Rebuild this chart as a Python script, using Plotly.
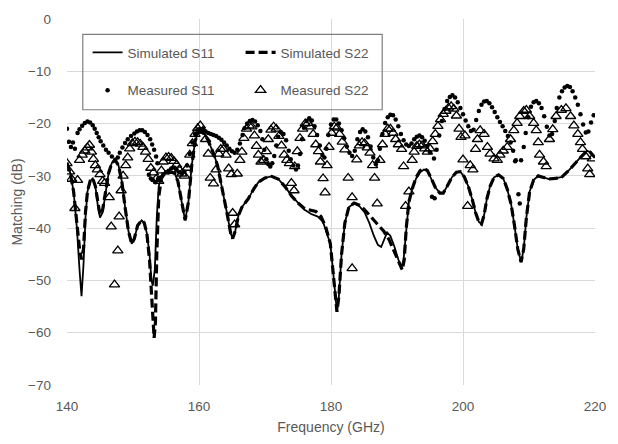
import plotly.graph_objects as go

# ---------------- data ----------------
sim_s11_f = [140.0,140.5,141.0,141.5,141.9,142.2,142.5,142.8,143.1,143.5,143.9,144.3,144.7,145.0,145.4,145.8,146.3,146.8,147.3,147.8,
             148.3,148.8,149.3,149.8,150.2,150.7,151.3,151.7,152.1,152.5,152.8,153.0,153.3,153.6,153.9,154.3,154.8,155.3,155.8,156.3,
             156.8,157.3,157.9,158.4,158.9,159.4,159.8,160.3,160.8,161.3,161.8,162.3,162.8,163.3,163.8,164.3,164.8,165.1,165.5,166.0,
             166.5,167.0,167.5,168.3,169.0,170.0,171.0,172.0,173.0,174.0,175.0,176.0,177.0,178.0,178.8,179.4,179.9,180.3,180.7,180.9,
             181.2,181.6,182.1,182.7,183.5,184.3,185.1,185.8,186.5,187.1,187.6,188.1,188.5,189.0,189.6,190.2,190.7,191.0,191.4,191.8,
             192.3,192.9,193.5,194.1,194.6,195.2,195.8,196.5,197.0,197.6,198.3,199.0,199.6,200.2,200.8,201.4,201.9,202.4,202.8,203.2,
             203.6,204.1,204.7,205.4,206.1,206.7,207.3,207.8,208.3,208.8,209.2,209.6,210.1,210.7,211.4,212.2,213.0,214.0,215.0,216.0,
             217.0,218.0,218.8,219.3,220.0]
sim_s11_db = [-27.5,-29.5,-33,-40,-48,-53,-47,-38,-33,-31,-30.5,-32,-36,-38,-37,-33.5,-29.5,-27.5,-27,-28,
              -31,-36,-40.5,-43,-42,-39.5,-38.5,-39,-41,-45,-50,-51,-48,-38,-32,-30,-29.5,-29.5,-29.3,-29.5,
              -31,-34.5,-38.5,-35,-28,-23.5,-21.8,-21.5,-22,-23,-24.5,-26,-28,-31,-34,-37.5,-41,-42,-40.5,-37.5,
              -36,-35.2,-34.3,-32.5,-31.2,-30.4,-30.1,-30.6,-32,-33.8,-35.2,-36.5,-37.3,-37.8,-38.8,-41,-43,-48,-54,-56,
              -53,-45,-39,-36,-35.2,-35.8,-37,-39,-41.5,-43.2,-43.6,-42.2,-40.8,-41.5,-43.5,-46,-47.4,-46,-40,-35,
              -32.5,-30.5,-29.3,-28.8,-29,-30.5,-32.2,-33.3,-33.3,-32,-30.3,-29.3,-29.2,-30.2,-32,-34.5,-37,-38.8,-39.2,-37.5,
              -34.5,-32,-30.3,-29.8,-30.5,-32.5,-35.5,-39.5,-44,-46.5,-44,-38,-33,-30.8,-30,-30.3,-30.6,-30.5,-30.2,-29,
              -27.5,-26.2,-25.2,-25.5,-26.5]

sim_s22_f = [140.0,140.5,141.0,141.5,141.9,142.2,142.5,142.8,143.1,143.5,143.9,144.3,144.7,145.0,145.4,145.8,146.3,146.8,147.3,147.8,
             148.3,148.8,149.3,149.8,150.2,150.7,151.3,151.7,152.1,152.5,152.8,153.0,153.2,153.4,153.6,153.9,154.3,154.8,155.3,155.8,156.3,
             156.8,157.3,157.9,158.4,158.9,159.4,159.8,160.3,160.8,161.3,161.8,162.3,162.8,163.3,163.8,164.3,164.8,165.1,165.5,166.0,
             166.5,167.0,167.5,168.3,169.0,170.0,171.0,172.0,173.0,174.0,175.0,176.0,177.0,177.7,178.5,179.2,179.9,180.3,180.7,180.9,
             181.2,181.6,182.1,182.7,183.5,184.3,185.1,185.8,186.5,187.2,188.0,188.8,189.6,190.2,190.8,191.1,191.4,191.8,
             192.3,192.9,193.5,194.1,194.6,195.2,195.8,196.5,197.0,197.6,198.3,199.0,199.6,200.2,200.8,201.4,201.9,202.4,202.8,203.2,
             203.6,204.1,204.7,205.4,206.1,206.7,207.3,207.8,208.3,208.8,209.2,209.6,210.1,210.7,211.4,212.2,213.0,214.0,215.0,216.0,
             217.0,218.0,218.8,219.3,220.0]
sim_s22_db = [-27.5,-29.5,-33,-39,-44,-46,-44,-37,-33,-31,-30.5,-32,-35.5,-37.5,-36.5,-33.5,-29.5,-27.5,-27,-28,
              -31,-36,-40.5,-43,-42,-39.5,-38.5,-39,-41,-46,-53,-59,-61,-58,-45,-34,-30.5,-29.5,-29.5,-29.3,-29.5,
              -31,-34.5,-38.5,-35,-28,-23.5,-21.8,-21.5,-22,-23,-24.5,-26,-28,-31,-34,-37.5,-41,-42,-40.5,-37.5,
              -36,-35.2,-34.3,-32.5,-31.2,-30.4,-30.1,-30.6,-32,-33.8,-35.2,-36.3,-36.6,-36.8,-37.8,-39.8,-43,-48,-54,-56,
              -53,-45,-39,-36,-35.2,-35.6,-36.5,-37.5,-38.5,-39.5,-40.6,-42.2,-44.5,-46.5,-48,-46,-40,-35,
              -32.5,-30.3,-29,-28.6,-29,-30.5,-32.2,-33.3,-33.3,-32,-30.3,-29.3,-29.2,-30.2,-32,-34.5,-37,-38.8,-39.2,-37.5,
              -34.5,-32,-30.3,-29.8,-30.5,-32.5,-35.5,-39.5,-44,-46.5,-44,-38,-33,-30.8,-30,-30.3,-30.6,-30.5,-30.2,-29,
              -27.5,-26.2,-25.2,-25.5,-26.5]

meas_s11_f = [140.0,140.3,140.6,140.9,141.2,141.6,141.9,142.3,142.7,143.1,143.5,143.9,144.2,144.5,144.8,145.1,145.5,145.9,146.3,146.8,
              147.3,147.7,148.0,148.4,148.8,149.2,149.7,150.2,150.6,151.0,151.4,151.8,152.2,152.6,152.9,153.2,153.5,153.7,
              152.4,152.7,153.0,153.4,153.8,154.2,154.6,155.0,155.4,155.8,156.2,156.6,157.0,157.4,157.8,158.2,158.6,159.0,159.4,159.8,
              160.2,160.6,161.0,161.4,161.8,162.2,162.6,163.0,163.4,163.8,164.2,164.6,165.0,165.4,165.8,166.2,166.6,166.9,167.3,167.7,
              168.1,168.5,168.9,169.3,169.6,169.9,170.2,170.5,170.8,171.1,171.4,171.7,172.0,172.4,172.8,173.2,173.6,173.9,174.3,174.7,
              175.0,175.3,175.6,175.9,176.3,176.7,177.1,177.5,177.9,178.3,178.7,179.0,179.3,179.6,180.0,180.4,180.8,181.2,181.6,182.0,
              182.4,182.8,183.2,183.6,184.0,184.4,184.8,185.2,185.6,186.0,186.4,186.8,187.1,187.4,187.8,188.2,188.6,189.0,189.4,189.8,
              190.2,190.6,191.0,191.4,191.8,192.2,192.6,193.0,193.4,193.8,194.2,194.6,195.0,195.3,195.7,195.6,196.0,196.4,196.8,197.2,
              197.6,198.0,198.4,198.8,199.2,199.6,200.0,200.4,200.8,201.2,201.6,202.0,202.4,202.8,203.2,203.6,204.0,204.4,204.8,205.2,
              205.6,206.0,206.4,206.8,207.2,207.6,207.9,208.0,208.4,208.6,208.8,209.2,209.5,209.9,210.3,210.7,211.1,211.5,211.9,212.3,
              212.7,213.1,213.5,213.9,214.2,214.6,215.0,215.4,215.8,216.2,216.6,217.0,217.4,217.8,218.2,218.6,219.0,219.4,219.8]
meas_s11_db = [-21.0,-23.5,-24.5,-23.6,-24.8,-21.8,-21.1,-20.4,-19.9,-19.6,-19.8,-20.3,-21.0,-21.8,-22.6,-23.4,-24.2,-25.0,-25.6,-26.3,
               -26.9,-26.5,-25.6,-24.6,-23.7,-23.0,-22.4,-21.9,-21.5,-21.3,-21.3,-21.6,-22.2,-23.0,-24.0,-25.0,-26.3,-27.6,
               -29.8,-30.5,-30.8,-31.2,-30.6,-30.3,-29.7,-29.3,-29.0,-28.6,-28.4,-28.8,-29.3,-29.6,-29.2,-28.0,-25.8,-23.6,-22.0,-21.3,
               -21.1,-21.2,-21.5,-21.8,-22.0,-22.2,-22.4,-22.7,-23.1,-23.6,-24.2,-24.8,-25.3,-25.6,-25.0,-23.8,-22.2,-20.9,-20.0,-19.5,
               -19.3,-19.6,-20.3,-21.4,-23.0,-25.0,-26.8,-27.8,-28.2,-27.6,-26.2,-24.2,-22.5,-21.6,-22.0,-23.2,-25.2,-26.8,-28.0,-28.8,
               -28.0,-25.8,-23.0,-20.8,-19.5,-19.0,-19.4,-20.5,-22.2,-24.2,-26.0,-26.5,-24.8,-22.2,-20.2,-19.2,-19.2,-20.0,-21.3,-22.8,
               -24.4,-25.6,-26.2,-25.2,-23.0,-21.6,-21.1,-21.5,-22.6,-24.4,-26.5,-27.8,-27.0,-24.8,-22.0,-19.9,-18.8,-18.3,-18.4,-19.2,
               -20.5,-22.0,-23.2,-24.0,-24.3,-23.8,-23.0,-22.5,-22.3,-22.6,-23.3,-24.3,-25.5,-34.0,-34.3,-26.7,-25.0,-22.3,-19.5,-17.2,
               -15.7,-14.9,-14.6,-15.0,-15.9,-17.0,-18.2,-19.4,-20.5,-21.4,-21.2,-19.3,-17.6,-16.4,-15.8,-15.7,-16.1,-16.9,-17.8,-18.8,
               -19.7,-20.5,-21.4,-22.4,-23.6,-25.2,-27.2,-27.0,-33.5,-35.3,-27.0,-24.5,-21.8,-18.8,-16.8,-15.9,-15.7,-16.1,-17.0,-18.6,
               -20.6,-22.3,-22.0,-19.5,-17.0,-15.0,-13.8,-13.1,-12.8,-13.0,-13.8,-15.0,-16.4,-18.2,-20.2,-21.7,-21.5,-19.8,-18.4]

meas_s22_f = [140.0,140.4,140.7,141.2,141.6,141.9,142.3,142.7,143.1,143.4,143.7,144.0,144.3,144.6,145.0,145.4,145.7,146.4,146.7,147.2,
              147.7,147.9,148.2,148.5,148.9,149.2,149.5,149.9,150.3,150.7,151.1,151.5,151.9,152.3,152.7,153.1,153.5,153.9,154.3,154.6,
              155.0,155.4,155.8,156.2,156.6,157.0,157.4,157.8,158.2,158.6,159.0,159.4,159.8,160.2,160.6,161.0,161.4,161.7,162.2,162.6,
              163.0,163.3,163.7,164.1,164.5,164.9,165.1,165.4,165.8,166.2,166.5,166.8,167.2,167.6,168.0,168.4,168.7,169.0,169.4,169.8,
              170.2,170.5,170.9,171.3,171.7,172.1,172.5,172.9,173.3,173.7,174.0,174.4,174.5,174.9,175.3,175.7,176.1,176.5,176.9,177.3,
              177.7,178.1,178.4,178.8,179.1,179.4,179.7,180.1,180.5,180.9,181.3,181.7,182.1,182.6,183.2,183.2,183.9,184.3,184.7,185.1,
              185.5,185.9,186.3,186.6,187.0,187.4,187.8,188.2,188.6,189.0,189.4,189.8,190.2,190.7,191.0,191.3,191.8,192.3,192.6,193.0,
              193.4,193.8,194.2,194.6,195.0,195.4,195.8,196.2,196.6,197.0,197.4,197.8,198.2,198.6,199.0,199.4,199.7,200.0,200.3,200.7,
              201.1,201.5,201.9,202.2,202.6,203.2,203.7,204.1,204.7,205.2,205.6,206.1,206.7,207.2,207.7,208.2,208.6,209.2,209.6,210.1,
              210.7,211.1,211.4,211.6,212.2,212.6,213.1,213.6,214.1,214.9,215.6,216.3,216.8,217.4,217.8,218.1,218.6,218.9,219.2,219.6]
meas_s22_db = [-27.6,-29.2,-30.6,-36.2,-30.8,-27.0,-26.0,-25.2,-24.6,-24.1,-25.4,-26.8,-28.0,-28.8,-29.7,-31.0,-31.4,-34.1,-39.7,-50.8,
               -44.3,-37.8,-32.8,-30.0,-28.0,-26.5,-24.8,-23.8,-23.5,-23.6,-23.9,-24.5,-25.4,-26.8,-28.5,-29.4,-30.6,-31.0,-29.0,-27.3,
               -26.5,-26.4,-26.6,-27.2,-27.9,-28.8,-29.6,-30.0,-28.5,-26.0,-23.8,-22.0,-20.9,-20.4,-21.4,-23.0,-25.8,-30.4,-31.5,-28.8,
               -25.8,-24.9,-24.9,-26.0,-28.6,-29.7,-37.1,-39.3,-29.6,-27.0,-25.4,-22.8,-21.0,-20.4,-20.6,-22.3,-24.3,-26.0,-27.3,-27.0,
               -25.3,-23.0,-21.2,-20.6,-21.0,-22.4,-24.2,-26.0,-27.0,-27.6,-31.4,-32.8,-28.2,-25.3,-22.8,-21.0,-20.0,-19.9,-20.6,-22.0,
               -24.0,-25.3,-27.3,-30.5,-33.2,-28.0,-24.5,-21.8,-20.6,-20.8,-22.0,-23.5,-25.0,-30.4,-34.1,-47.7,-26.9,-24.2,-23.6,-23.8,
               -24.6,-25.6,-28.0,-30.4,-35.3,-27.0,-24.0,-22.0,-21.0,-21.0,-21.8,-23.0,-24.0,-24.9,-28.2,-35.8,-33.0,-27.0,-25.4,-24.3,
               -24.0,-24.2,-24.8,-25.4,-24.8,-23.4,-22.0,-20.5,-19.2,-18.2,-17.6,-17.0,-16.7,-17.2,-18.5,-21.0,-22.6,-26.9,-22.3,-35.8,
               -28.0,-28.8,-24.9,-23.0,-21.3,-22.0,-24.5,-25.8,-26.7,-27.0,-26.0,-25.2,-24.5,-23.0,-21.3,-19.9,-18.6,-17.6,-17.4,-18.6,
               -19.9,-21.3,-23.6,-26.0,-27.3,-28.2,-23.0,-21.1,-18.6,-17.4,-17.1,-18.6,-20.4,-22.0,-23.6,-24.9,-26.3,-28.6,-29.7,-26.7]

x_ticks = [140, 160, 180, 200, 220]
y_ticks = [0, -10, -20, -30, -40, -50, -60, -70]

FONT = "Liberation Sans, Arial, sans-serif"
GRAY = "#595959"

fig = go.Figure()
fig.add_trace(go.Scatter(x=sim_s11_f, y=sim_s11_db, mode="lines", name="Simulated S11",
                         line=dict(color="black", width=1.8), legend="legend"))
fig.add_trace(go.Scatter(x=sim_s22_f, y=sim_s22_db, mode="lines", name="Simulated S22",
                         line=dict(color="black", width=3.2, dash="9px,4px"), legend="legend"))
fig.add_trace(go.Scatter(x=meas_s11_f, y=meas_s11_db, mode="markers", name="Measured S11",
                         marker=dict(symbol="circle", size=4.5, color="black"), legend="legend2"))
fig.add_trace(go.Scatter(x=meas_s22_f, y=meas_s22_db, mode="markers", name="Measured S22",
                         marker=dict(symbol="triangle-up-open", size=9, color="black",
                                     line=dict(width=1.3, color="black")), legend="legend2"))

leg_common = dict(orientation="h", xanchor="left", yanchor="middle", x=0.039,
                  bgcolor="rgba(0,0,0,0)", borderwidth=0, entrywidth=108, entrywidthmode="pixels",
                  font=dict(family=FONT, size=13.5, color=GRAY), itemsizing="trace")

fig.update_layout(
    width=618, height=444,
    margin=dict(l=67, r=15, t=13, b=52),
    paper_bgcolor="white", plot_bgcolor="white",
    font=dict(family=FONT, size=13, color=GRAY),
    legend=dict(leg_common, y=0.908),
    legend2=dict(leg_common, y=0.805),
    shapes=[dict(type="rect", xref="paper", yref="paper", x0=0.0299, x1=0.597, y0=0.752, y1=0.958,
                 line=dict(color="#7f7f7f", width=1.2), fillcolor="rgba(0,0,0,0)")],
)
fig.update_xaxes(range=[140, 220], tickvals=x_ticks, showgrid=True, gridcolor="#d9d9d9", gridwidth=1,
                 zeroline=False, showline=False, ticks="", ticklabelstandoff=11, ticklabeloverflow="allow",
                 tickfont=dict(family=FONT, size=13.5, color=GRAY),
                 title=dict(text="Frequency (GHz)", font=dict(family=FONT, size=14, color=GRAY), standoff=9))
fig.update_yaxes(range=[-70, 0], tickvals=y_ticks, showgrid=True, gridcolor="#d9d9d9", gridwidth=1,
                 zeroline=False, showline=False, ticks="", ticklabelstandoff=15, ticklabeloverflow="allow",
                 tickfont=dict(family=FONT, size=13.5, color=GRAY),
                 title=dict(text="Matching (dB)", font=dict(family=FONT, size=14, color=GRAY), standoff=2))

fig.write_html("out.html", config={"displayModeBar": False},
               post_script="document.body.style.margin='0px';")
